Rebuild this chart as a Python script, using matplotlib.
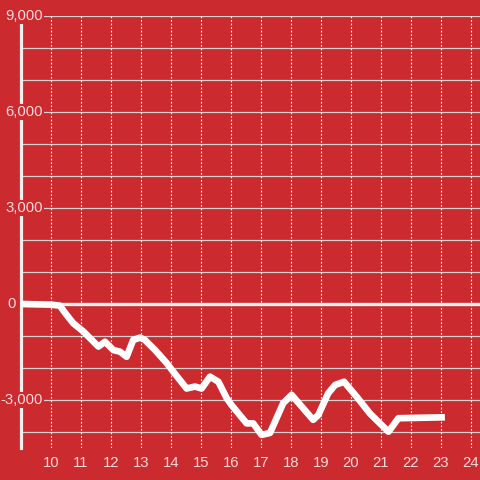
import matplotlib
matplotlib.use("Agg")
import matplotlib.pyplot as plt

# hours of the day and running value
hours = [9.0, 10.0, 10.3, 10.53, 10.75, 11.09, 11.59, 11.81, 12.09, 12.31, 12.53,
         12.75, 12.98, 13.14, 13.48, 13.87, 14.09, 14.53, 14.81, 15.03, 15.31,
         15.59, 15.87, 16.03, 16.53, 16.75, 17.03, 17.31, 17.75, 18.03, 18.75,
         18.92, 19.25, 19.48, 19.78, 20.2, 20.64, 20.92, 21.26, 21.59, 23.14]
values = [0, -20, -50, -340, -600, -860, -1330, -1180, -1440, -1490, -1650,
          -1125, -1050, -1125, -1440, -1850, -2120, -2640, -2580, -2640, -2270,
          -2430, -2950, -3160, -3730, -3730, -4090, -4030, -3100, -2840, -3620,
          -3470, -2790, -2530, -2430, -2900, -3420, -3680, -3990, -3570, -3540]

x_ticks = list(range(10, 25))
y_grid = list(range(-4000, 9001, 1000))
y_labels = [9000, 6000, 3000, -3000]

bg = "#cb2a2f"
txt = "#f3dada"
plt.rcParams["font.family"] = ["Liberation Sans", "DejaVu Sans"]

fig = plt.figure(figsize=(4.8, 4.8), dpi=100, facecolor=bg)
ax = fig.add_axes([20.7 / 480, 32 / 480, 1 - 20.7 / 480, 432 / 480])
ax.set_facecolor(bg)
ax.set_xlim(9, 24.31)
ax.set_ylim(-4500, 9000)

for s in ["top", "right", "bottom"]:
    ax.spines[s].set_visible(False)
ax.spines["left"].set_color("#f0f0f0")
ax.spines["left"].set_linewidth(2.3)
ax.spines["left"].set_zorder(2.5)

for y in y_grid:
    if y != 0:
        ax.axhline(y, color="#d2d2d2", lw=0.9, zorder=1)
for x in x_ticks:
    ax.axvline(x, color="#f5f5f5", lw=0.8, ls=(0, (1.6, 1.6)), zorder=1)
ax.axhline(0, color="#f0f0f0", lw=2.4, zorder=2)

ax.plot(hours, values, color="white", lw=4.8, solid_joinstyle="round",
        solid_capstyle="butt", zorder=4)

ax.set_xticks(x_ticks)
ax.set_xticklabels([str(x) for x in x_ticks])
ax.set_yticks([])
ax.tick_params(axis="x", length=0, pad=6, colors=txt, labelsize=10.7)

tr = ax.get_yaxis_transform()
for y in y_labels:
    ax.text((43 - 20.7) / 459.3, y, "{:,}".format(y), transform=tr, ha="right",
            va="center", color=txt, fontsize=10.7, zorder=5,
            bbox=dict(facecolor=bg, edgecolor="none", pad=1.0))
ax.text((15.5 - 20.7) / 459.3, 0, "0", transform=tr, ha="right", va="center",
        color=txt, fontsize=10.7, zorder=5, clip_on=False)

fig.savefig("out.png", dpi=100, facecolor=bg)
